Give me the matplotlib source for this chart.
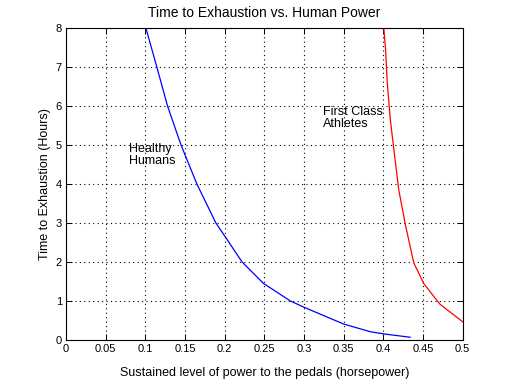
import matplotlib
matplotlib.use("Agg")
import matplotlib.pyplot as plt
import numpy as np

# values
healthy_x = [0.1007, 0.1145, 0.128, 0.145, 0.165, 0.189, 0.2, 0.222, 0.249, 0.283, 0.3, 0.35, 0.384, 0.403, 0.434]
healthy_y = [8.0, 7.0, 6.0, 5.0, 4.0, 3.0, 2.67, 2.0, 1.45, 1.0, 0.84, 0.41, 0.21, 0.15, 0.07]

athlete_x = [0.4007, 0.403, 0.405, 0.409, 0.415, 0.4196, 0.428, 0.4385, 0.451, 0.4714, 0.5]
athlete_y = [8.0, 7.44, 6.62, 5.64, 4.62, 3.85, 2.95, 1.98, 1.45, 0.92, 0.47]

xticks = [0, 0.05, 0.1, 0.15, 0.2, 0.25, 0.3, 0.35, 0.4, 0.45, 0.5]
xtick_labels = ["0", "0.05", "0.1", "0.15", "0.2", "0.25", "0.3", "0.35", "0.4", "0.45", "0.5"]
yticks = [0, 1, 2, 3, 4, 5, 6, 7, 8]

plt.rcParams['font.family'] = ['Liberation Sans', 'DejaVu Sans']

fig = plt.figure(figsize=(5.13, 3.86), dpi=100)
ax = fig.add_axes([0.1287, 0.1192, 0.9016 - 0.1287, 0.9275 - 0.1192])

ax.plot(healthy_x, healthy_y, color='blue', lw=0.9)
ax.plot(athlete_x, athlete_y, color='red', lw=0.9)

ax.set_xlim(0, 0.5)
ax.set_ylim(0, 8)
ax.set_xticks(xticks)
ax.set_xticklabels(xtick_labels)
ax.set_yticks(yticks)
ax.tick_params(direction='in', top=True, right=True, labelsize=8, length=4, width=0.7, pad=3)
ax.grid(True, color='black', linestyle=(0, (1, 3)), lw=0.8)
for s in ax.spines.values():
    s.set_linewidth(0.8)

ax.text(0.0795, 5.05, "Healthy\nHumans", fontsize=9, va='top', ha='left', linespacing=0.95)
ax.text(0.324, 6.0, "First Class\nAthletes", fontsize=9, va='top', ha='left', linespacing=0.95)

ax.set_title("Time to Exhaustion vs. Human Power", fontsize=10, pad=8)
ax.set_xlabel("Sustained level of power to the pedals (horsepower)", fontsize=9, labelpad=9)
ax.set_ylabel("Time to Exhaustion (Hours)", fontsize=9, labelpad=3)

fig.savefig("out.png", dpi=100)
